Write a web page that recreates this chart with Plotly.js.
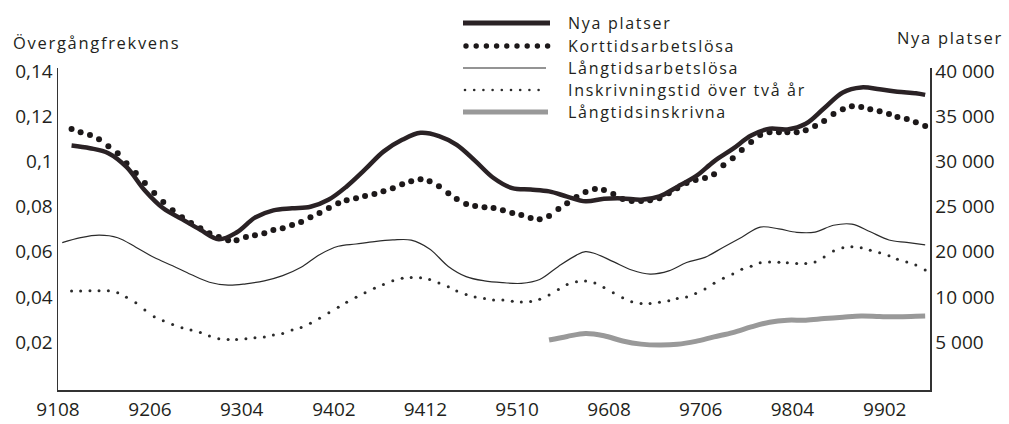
<!DOCTYPE html>
<html><head><meta charset="utf-8">
<script src="https://cdn.plot.ly/plotly-3.0.1.min.js"></script>
<style>html,body{margin:0;padding:0;background:#fff}#chart{width:1009px;height:424px}
text.annotation-text{letter-spacing:1.7px}</style>
</head><body><div id="chart"></div>
<script>
// ---------- DATA ----------
// monthly categories 9108 .. 9907 (YYMM)
const months = [];
for (let i = 0; i < 96; i++) {
  const yy = 91 + Math.floor((7 + i) / 12);
  const mm = ((7 + i) % 12) + 1;
  months.push(String(yy) + String(mm).padStart(2, '0'));
}
const tickLabels = ['9108','9206','9304','9402','9412','9510','9608','9706','9804','9902'];
const leftTicks = [0.02, 0.04, 0.06, 0.08, 0.1, 0.12, 0.14];
const leftTickText = ['0,02','0,04','0,06','0,08','0,1','0,12','0,14'];
const rightTicks = [10000, 15000, 20000, 25000, 30000, 35000, 40000];
const rightTickText = ['5 000','10 000','20 000','25 000','30 000','35 000','40 000'];

// Nya platser (right axis)
const nyaMonths = ['9109','9111','9201','9203','9205','9207','9209','9211','9301','9303','9305','9307','9309','9311','9401','9403','9405','9407','9409','9411','9501','9503','9505','9507','9509','9511','9601','9603','9605','9607','9609','9611','9701','9703','9705','9707','9709','9711','9801','9803','9805','9807','9809','9811','9901','9903','9905','9906'];
const nyaValues = [31750,31450,30900,29375,26775,24800,23600,22425,21375,22125,23775,24575,24800,24975,25775,27225,29100,31075,32375,33150,32800,31825,30050,28150,27025,26875,26675,26100,25575,25850,25900,25750,26125,27175,28325,30000,31375,32850,33600,33525,34150,35875,37625,38175,37975,37700,37525,37350];

// Korttidsarbetslösa, monthly 9109..9906
const korttidValues = [
 0.1143,0.1129,0.1116,0.1098,0.1067,0.1036,0.0992,0.0948,0.0904,0.0860,
 0.0820,0.0784,0.0753,0.0727,0.0704,0.0682,0.0665,0.0651,0.0651,0.0665,
 0.0673,0.0682,0.0696,0.0704,0.0718,0.0731,0.0753,0.0771,0.0793,0.0815,
 0.0828,0.0837,0.0846,0.0855,0.0868,0.0881,0.0899,0.0912,0.0921,0.0912,
 0.0890,0.0859,0.0833,0.0811,0.0802,0.0797,0.0793,0.0784,0.0771,0.0762,
 0.0749,0.0744,0.0758,0.0789,0.0815,0.0842,0.0864,0.0877,0.0873,0.0855,
 0.0833,0.0824,0.0824,0.0828,0.0837,0.0859,0.0881,0.0904,0.0917,0.0926,
 0.0943,0.0983,0.1014,0.1050,0.1085,0.1116,0.1129,0.1129,0.1129,0.1129,
 0.1138,0.1156,0.1178,0.1209,0.1231,0.1244,0.1240,0.1231,0.1222,0.1209,
 0.1196,0.1187,0.1173,0.1156];

// Långtidsarbetslösa
const langtidMonths = ['9108','9110','9112','9202','9204','9206','9208','9210','9212','9302','9304','9306','9308','9310','9312','9402','9404','9406','9408','9410','9412','9502','9504','9506','9508','9510','9512','9602','9604','9605','9606','9608','9610','9612','9702','9704','9706','9708','9710','9712','9802','9804','9806','9808','9810','9812','9902','9904','9906'];
const langtidValues = [0.0640,0.0662,0.0673,0.0662,0.0620,0.0574,0.0538,0.0499,0.0465,0.0452,0.0458,0.0471,0.0494,0.0531,0.0587,0.0624,0.0634,0.0645,0.0652,0.0651,0.0612,0.0535,0.0490,0.0471,0.0463,0.0460,0.0477,0.0535,0.0585,0.0600,0.0592,0.0556,0.0519,0.0501,0.0515,0.0552,0.0575,0.0620,0.0664,0.0709,0.0701,0.0686,0.0687,0.0717,0.0722,0.0688,0.0652,0.0641,0.0630];

// Inskrivningstid över två år, monthly 9109..9906
const inskrivValues = [
 0.0426,0.0426,0.0427,0.0427,0.0427,0.0418,0.0398,0.0374,0.0342,0.0312,
 0.0294,0.0278,0.0263,0.0253,0.0243,0.0227,0.0215,0.0212,0.0212,0.0215,
 0.0219,0.0223,0.0231,0.0238,0.0253,0.0265,0.0283,0.0305,0.0330,0.0354,
 0.0376,0.0398,0.0418,0.0438,0.0455,0.0471,0.0482,0.0486,0.0485,0.0477,
 0.0462,0.0445,0.0426,0.0411,0.0400,0.0393,0.0386,0.0386,0.0381,0.0377,
 0.0380,0.0390,0.0408,0.0433,0.0455,0.0467,0.0470,0.0462,0.0442,0.0418,
 0.0396,0.0378,0.0371,0.0371,0.0376,0.0383,0.0393,0.0400,0.0415,0.0435,
 0.0460,0.0482,0.0501,0.0522,0.0536,0.0551,0.0555,0.0553,0.0551,0.0548,
 0.0548,0.0555,0.0577,0.0603,0.0617,0.0622,0.0617,0.0607,0.0595,0.0582,
 0.0567,0.0555,0.0541,0.0519];

// Långtidsinskrivna
const inskrivnaMonths = ['9601','9603','9605','9607','9609','9611','9701','9703','9705','9707','9709','9711','9801','9803','9805','9807','9809','9811','9901','9903','9905','9906'];
const inskrivnaValues = [0.0209,0.0225,0.0238,0.0228,0.0205,0.0191,0.0187,0.0190,0.0203,0.0223,0.0242,0.0267,0.0288,0.0297,0.0297,0.0304,0.0310,0.0315,0.0313,0.0312,0.0314,0.0315];

const legendNames = ['Nya platser','Korttidsarbetslösa','Långtidsarbetslösa','Inskrivningstid över två år','Långtidsinskrivna'];

// ---------- HELPERS ----------
function toDate(label, day) {
  return '19' + label.slice(0, 2) + '-' + label.slice(2, 4) + '-' + (day || '15');
}
const W = 1009, H = 424;
const M = {l: 58, r: 79, t: 68, b: 34};
const PW = W - M.l - M.r, PH = H - M.t - M.b;
const px = x => (x - M.l) / PW;
const py = y => (H - M.b - y) / PH;

const FONT = '"Open Sans", Lato, sans-serif';
const TXT = '#231f20';
const DARK = '#2a2225';
const GREY = '#999999';

const traces = [
  {x: langtidMonths.map(m => toDate(m)), y: langtidValues, mode: 'lines', yaxis: 'y',
   line: {color: '#2b2b2b', width: 1.2, shape: 'spline', smoothing: 1}, name: legendNames[2], hoverinfo: 'skip'},
  {x: months.slice(1, 95).map(m => toDate(m)), y: inskrivValues, mode: 'markers', yaxis: 'y',
   marker: {color: '#2b2b2b', size: 3}, name: legendNames[3], hoverinfo: 'skip'},
  {x: inskrivnaMonths.map(m => toDate(m)), y: inskrivnaValues, mode: 'lines', yaxis: 'y',
   line: {color: GREY, width: 5, shape: 'spline', smoothing: 1}, name: legendNames[4], hoverinfo: 'skip'},
  {x: nyaMonths.map(m => toDate(m)), y: nyaValues, mode: 'lines', yaxis: 'y2',
   line: {color: DARK, width: 4.5, shape: 'spline', smoothing: 1}, name: legendNames[0], hoverinfo: 'skip'},
  {x: months.slice(1, 95).map(m => toDate(m)), y: korttidValues, mode: 'markers', yaxis: 'y',
   marker: {color: '#1c1819', size: 6}, name: legendNames[1], hoverinfo: 'skip'}
];

// custom legend
const shapes = [];
const annotations = [];
const legY = [23, 46, 68, 90, 112];
shapes.push({type: 'line', xref: 'paper', yref: 'paper', x0: px(463), x1: px(550), y0: py(legY[0]), y1: py(legY[0]),
  line: {color: DARK, width: 5}});
for (let i = 0; i < 9; i++) {
  const cx = 466 + i * 10.2, r = 2.7;
  shapes.push({type: 'circle', xref: 'paper', yref: 'paper', x0: px(cx - r), x1: px(cx + r), y0: py(legY[1] + r), y1: py(legY[1] - r),
    fillcolor: '#1c1819', line: {width: 0}});
}
shapes.push({type: 'line', xref: 'paper', yref: 'paper', x0: px(463), x1: px(546), y0: py(legY[2]), y1: py(legY[2]),
  line: {color: '#2b2b2b', width: 1.2}});
for (let i = 0; i < 9; i++) {
  const cx = 465 + i * 9.2, r = 1.3;
  shapes.push({type: 'circle', xref: 'paper', yref: 'paper', x0: px(cx - r), x1: px(cx + r), y0: py(legY[3] + r), y1: py(legY[3] - r),
    fillcolor: '#2b2b2b', line: {width: 0}});
}
shapes.push({type: 'line', xref: 'paper', yref: 'paper', x0: px(463), x1: px(548), y0: py(legY[4]), y1: py(legY[4]),
  line: {color: GREY, width: 5}});
legendNames.forEach((n, i) => {
  annotations.push({text: n, xref: 'paper', yref: 'paper', x: px(567), y: py(legY[i]), xanchor: 'left', yanchor: 'middle',
    showarrow: false, borderpad: 0, font: {family: FONT, size: 16, color: TXT}});
});
annotations.push({text: 'Övergångfrekvens', xref: 'paper', yref: 'paper', x: px(12), y: py(43), xanchor: 'left', yanchor: 'middle',
  showarrow: false, borderpad: 0, font: {family: FONT, size: 16.5, color: TXT}});
annotations.push({text: 'Nya platser', xref: 'paper', yref: 'paper', x: px(1004), y: py(38), xanchor: 'right', yanchor: 'middle',
  showarrow: false, borderpad: 0, font: {family: FONT, size: 16.5, color: TXT}});

const layout = {
  width: W, height: H,
  margin: M,
  paper_bgcolor: '#ffffff', plot_bgcolor: '#ffffff',
  showlegend: false,
  font: {family: FONT, size: 19, color: TXT},
  xaxis: {type: 'date', range: [toDate('9108', '01'), toDate('9907', '01')],
    tickvals: tickLabels.map(l => toDate(l, '01')), ticktext: tickLabels, ticklabelstandoff: 2,
    showline: true, linecolor: '#333', linewidth: 1.5, ticks: '', showgrid: false, zeroline: false,
    tickfont: {family: FONT, size: 19, color: TXT}},
  yaxis: {range: [-0.0012, 0.1413], tickvals: leftTicks, ticktext: leftTickText,
    showline: true, linecolor: '#333', linewidth: 1.5, ticks: '', showgrid: false, zeroline: false,
    tickfont: {family: FONT, size: 19, color: TXT}},
  yaxis2: {range: [4700, 40325], overlaying: 'y', side: 'right', tickvals: rightTicks, ticktext: rightTickText,
    showline: true, linecolor: '#333', linewidth: 1.5, ticks: '', showgrid: false, zeroline: false,
    tickfont: {family: FONT, size: 19, color: TXT}},
  shapes: shapes,
  annotations: annotations
};

Plotly.newPlot('chart', traces, layout, {displayModeBar: false, staticPlot: true});
</script>
</body></html>
